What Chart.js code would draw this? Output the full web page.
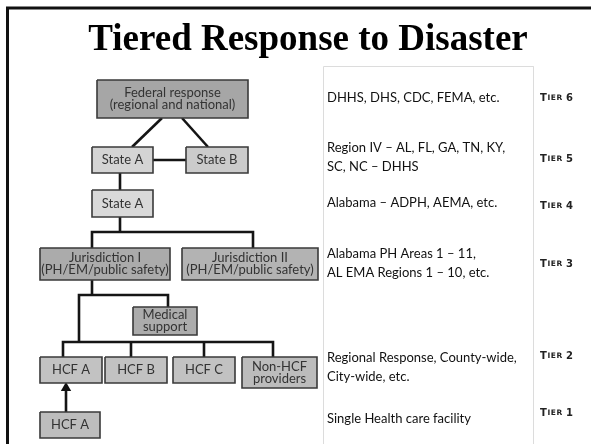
<!DOCTYPE html>
<html lang="en">
  <head>
    <meta charset="utf-8" />
    <title>Tiered Response to Disaster</title>
    <style>
      body { margin: 0; background: #fff; }
      canvas { display: block; }
    </style>
  </head>
  <body>
    <canvas id="tier-chart" width="591" height="444"></canvas>

    <script src="https://cdn.jsdelivr.net/npm/chart.js@4.4.1/dist/chart.umd.min.js"></script>
    <script>
      const TITLE = "Tiered Response to Disaster";

      // organisation boxes (text only)
      const BOX_LABELS = [
        "Federal response\n(regional and national)",
        "State A",
        "State B",
        "State A",
        "Jurisdiction I\n(PH/EM/public safety)",
        "Jurisdiction II\n(PH/EM/public safety)",
        "Medical\nsupport",
        "HCF A",
        "HCF B",
        "HCF C",
        "Non-HCF\nproviders",
        "HCF A",
      ];

      const TIER_LABELS = ["Tier 6", "Tier 5", "Tier 4", "Tier 3", "Tier 2", "Tier 1"];

      const TIER_NOTES = [
        "DHHS, DHS, CDC, FEMA, etc.",
        "Region IV – AL, FL, GA, TN, KY,\nSC, NC – DHHS",
        "Alabama – ADPH, AEMA, etc.",
        "Alabama PH Areas 1 – 11,\nAL EMA Regions 1 – 10, etc.",
        "Regional Response, County-wide,\nCity-wide, etc.",
        "Single Health care facility",
      ];

      // layout (diagram units = pixels of the 591x444 page)
      const BOX_LAYOUT = [
        { x0: 97, y0: 80, x1: 248, y1: 118, fill: "#a6a6a6" },
        { x0: 92, y0: 147, x1: 153, y1: 173, fill: "#d4d4d4" },
        { x0: 186, y0: 147, x1: 248, y1: 173, fill: "#cbcbcb" },
        { x0: 92, y0: 190, x1: 153, y1: 217, fill: "#d9d9d9" },
        { x0: 40, y0: 248, x1: 170, y1: 280, fill: "#ababab" },
        { x0: 182, y0: 248, x1: 318, y1: 280, fill: "#b3b3b3" },
        { x0: 133, y0: 307, x1: 197, y1: 335, fill: "#acacac" },
        { x0: 40, y0: 357, x1: 102, y1: 383, fill: "#c2c2c2" },
        { x0: 105, y0: 357, x1: 167, y1: 383, fill: "#c2c2c2" },
        { x0: 173, y0: 357, x1: 235, y1: 383, fill: "#c2c2c2" },
        { x0: 242, y0: 357, x1: 317, y1: 388, fill: "#bcbcbc" },
        { x0: 40, y0: 412, x1: 100, y1: 438, fill: "#bdbdbd" },
      ];

      const CONNECTORS = [
        [[162, 118], [132, 147]],
        [[182, 118], [208, 147]],
        [[153, 160], [186, 160]],
        [[120, 173], [120, 190]],
        [[120, 217], [120, 232]],
        [[92, 248], [92, 232], [253, 232], [253, 248]],
        [[92, 280], [92, 295]],
        [[79, 342], [79, 295], [168, 295], [168, 307]],
        [[63, 357], [63, 342], [273, 342], [273, 357]],
        [[131, 342], [131, 357]],
        [[204, 342], [204, 357]],
        [[66, 412], [66, 389]],
      ];

      const NOTE_Y = [98, 148, 203, 254, 358, 419];
      const TIER_Y = [98, 159, 206, 264, 356, 413];

      const toPoints = (pts) => pts.map((p) => ({ x: p[0], y: p[1] }));

      const datasets = [];

      BOX_LAYOUT.forEach((b) => {
        datasets.push({
          data: toPoints([[b.x0, b.y0], [b.x1, b.y0], [b.x1, b.y1], [b.x0, b.y1], [b.x0, b.y0]]),
          showLine: true,
          fill: "shape",
          backgroundColor: b.fill,
          borderColor: "#3a3a3a",
          borderWidth: 1.6,
          pointRadius: 0,
          tension: 0,
          clip: false,
        });
      });

      // arrow head
      datasets.push({
        data: toPoints([[66, 388]]),
        pointStyle: "triangle",
        pointRadius: 6,
        backgroundColor: "#111",
        borderColor: "#111",
        borderWidth: 0,
        clip: false,
      });

      CONNECTORS.forEach((c) => {
        datasets.push({
          data: toPoints(c),
          showLine: true,
          borderColor: "#151515",
          borderWidth: 2.6,
          pointRadius: 0,
          tension: 0,
          clip: false,
        });
      });

      // slide frame and text panel
      datasets.push({
        data: toPoints([[591, 8], [7.5, 8], [7.5, 444]]),
        showLine: true,
        borderColor: "#111",
        borderWidth: 3,
        pointRadius: 0,
        clip: false,
      });
      datasets.push({
        data: toPoints([[323.5, 444], [323.5, 66.5], [533.5, 66.5], [533.5, 444]]),
        showLine: true,
        borderColor: "#dcdcdc",
        borderWidth: 1,
        pointRadius: 0,
        clip: false,
      });

      const drawSmallCaps = (ctx, text, x, y) => {
        let cx = x;
        for (let i = 0; i < text.length; i++) {
          const ch = text[i];
          const big = ch === ch.toUpperCase() && ch !== " ";
          ctx.font = big ? "bold 10px 'DejaVu Sans'" : "bold 7.5px 'DejaVu Sans'";
          const c = ch.toUpperCase();
          ctx.fillText(c, cx, y);
          cx += ctx.measureText(c).width + 0.6;
        }
      };

      const textPlugin = {
        id: "diagramText",
        afterDatasetsDraw(chart) {
          const { ctx } = chart;
          const sx = chart.scales.x;
          const sy = chart.scales.y;
          ctx.save();

          // title
          ctx.fillStyle = "#000";
          ctx.textAlign = "center";
          ctx.textBaseline = "alphabetic";
          ctx.font = "bold 37px 'Liberation Serif'";
          ctx.fillText(TITLE, sx.getPixelForValue(308), sy.getPixelForValue(50));

          // box labels
          ctx.textBaseline = "middle";
          ctx.fillStyle = "#333";
          ctx.font = "13px Lato";
          BOX_LABELS.forEach((label, i) => {
            const b = BOX_LAYOUT[i];
            const lines = label.split("\n");
            const cx = sx.getPixelForValue((b.x0 + b.x1) / 2);
            const cy = sy.getPixelForValue((b.y0 + b.y1) / 2);
            const lh = 12;
            lines.forEach((ln, j) => {
              ctx.fillText(ln, cx, cy + (j - (lines.length - 1) / 2) * lh);
            });
          });

          // tier notes
          ctx.textAlign = "left";
          ctx.fillStyle = "#111";
          ctx.font = "13px Lato";
          TIER_NOTES.forEach((note, i) => {
            note.split("\n").forEach((ln, j) => {
              ctx.fillText(ln, sx.getPixelForValue(327), sy.getPixelForValue(NOTE_Y[i] + j * 19));
            });
          });

          // tier labels
          ctx.fillStyle = "#222";
          TIER_LABELS.forEach((t, i) => {
            drawSmallCaps(ctx, t, sx.getPixelForValue(540), sy.getPixelForValue(TIER_Y[i]));
          });

          ctx.restore();
        },
      };

      new Chart(document.getElementById("tier-chart"), {
        type: "scatter",
        data: { datasets: datasets },
        options: {
          responsive: false,
          animation: false,
          layout: { padding: 0, autoPadding: false },
          plugins: {
            legend: { display: false },
            tooltip: { enabled: false },
          },
          scales: {
            x: { type: "linear", min: 0, max: 591, display: false },
            y: { type: "linear", min: 0, max: 444, reverse: true, display: false },
          },
        },
        plugins: [textPlugin],
      });
    </script>
  </body>
</html>
